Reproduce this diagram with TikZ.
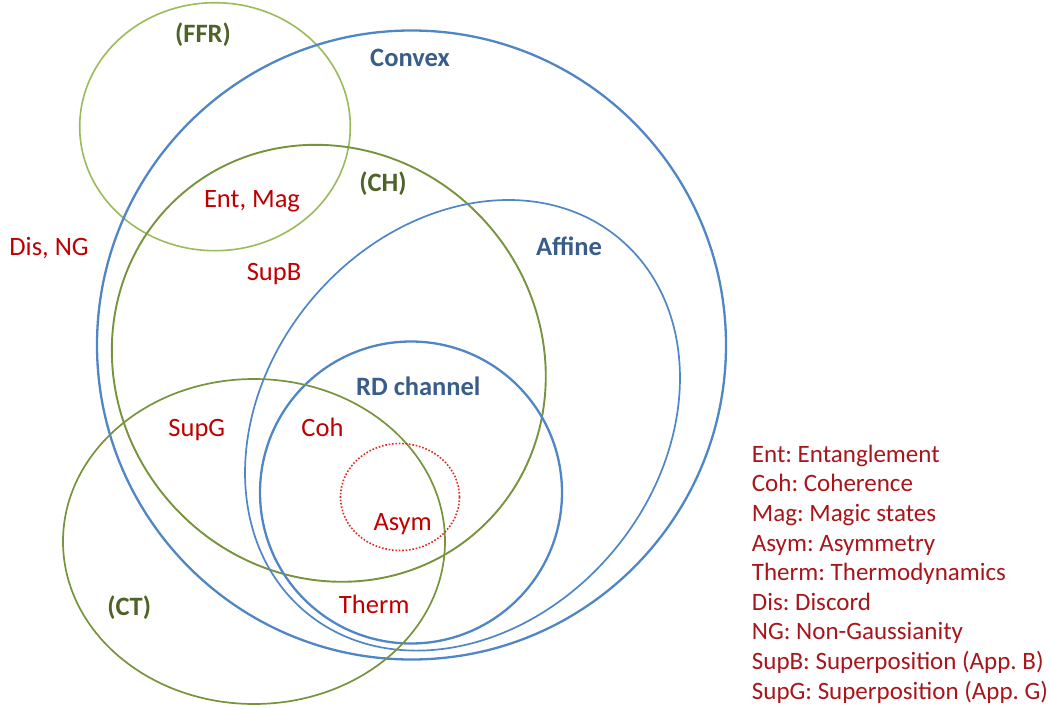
\documentclass[tikz,border=0pt]{standalone}
\usepackage{fontspec}
\setmainfont{Carlito}
\frenchspacing
\definecolor{lineblue}{HTML}{4F86C6}
\definecolor{txtblue}{HTML}{385D8A}
\definecolor{olive}{HTML}{77933C}
\definecolor{lightolive}{HTML}{9BBB59}
\definecolor{txtolive}{HTML}{4F6228}
\definecolor{lblred}{HTML}{C00000}
\definecolor{legred}{HTML}{A8151A}
\definecolor{dotred}{HTML}{E02A20}
\tikzset{
  bluering/.style={draw=lineblue, line width=2.3pt},
  bluethin/.style={draw=lineblue, line width=1.7pt},
  greenring/.style={draw=olive, line width=1.9pt},
  greenthin/.style={draw=olive, line width=1.7pt},
  ffrring/.style={draw=lightolive, line width=1.6pt},
  asymring/.style={draw=dotred, line width=1.6pt, dash pattern=on 1.6pt off 1.8pt},
  setlabel/.style={anchor=base, inner sep=0pt, font=\fontsize{26.5}{30}\selectfont\bfseries},
  bluelabel/.style={setlabel, text=txtblue},
  greenlabel/.style={setlabel, text=txtolive},
  redlabel/.style={anchor=base, inner sep=0pt, text=lblred, font=\fontsize{26.5}{30}\selectfont},
  legendline/.style={anchor=base west, inner sep=0pt, text=legred, font=\fontsize{25}{30}\selectfont}
}
\begin{document}
\begin{tikzpicture}[x=1pt, y=-1pt]
\useasboundingbox (0,0) rectangle (1049,709);
% sets
\draw[ffrring] (215,126.7) ellipse [x radius=135.3pt, y radius=124pt];
\draw[bluering] (411.5,345) circle [radius=314.5pt];
\draw[greenring, shift={(328.8,363.3)}, rotate=-48.3] (0,0) ellipse [x radius=224.2pt, y radius=211.1pt];
\draw[bluethin, shift={(462.5,425.3)}, rotate=49.76] (0,0) ellipse [x radius=243.9pt, y radius=196.4pt];
\draw[bluering] (411,492.5) circle [radius=151pt];
\draw[greenthin] (254,541.5) ellipse [x radius=191pt, y radius=162.5pt];
\draw[asymring] (400,497) ellipse [x radius=59.5pt, y radius=53.5pt];
% set names
\node[greenlabel] (lffr) at (203,42.7) {(FFR)};
\node[bluelabel] (lconvex) at (410,66.7) {Convex};
\node[greenlabel] (lch) at (383,191.7) {(CH)};
\node[bluelabel] (laffine) at (569,255.7) {Affine};
\node[bluelabel] (lrd) at (418.3,395.7) {RD channel};
\node[greenlabel] (lct) at (129.2,615) {(CT)};
% resources
\node[redlabel] (rentmag) at (252,207.3) {Ent, Mag};
\node[redlabel] (rdisng) at (49,255) {Dis, NG};
\node[redlabel] (rsupb) at (274,280.7) {SupB};
\node[redlabel] (rsupg) at (196.8,436) {SupG};
\node[redlabel] (rcoh) at (322.5,436) {Coh};
\node[redlabel] (rasym) at (402.7,530.7) {Asym};
\node[redlabel] (rtherm) at (374.2,613.3) {Therm};
% legend
\foreach \t [count=\i from 0] in {Ent: Entanglement, Coh: Coherence, Mag: Magic states, Asym: Asymmetry, Therm: Thermodynamics, Dis: Discord, NG: Non-Gaussianity, SupB: Superposition (App. B), SupG: Superposition (App. G)}
  \node[legendline] (leg\i) at (751.7,{462.3+29.6*\i}) {\t};
\end{tikzpicture}
\end{document}
